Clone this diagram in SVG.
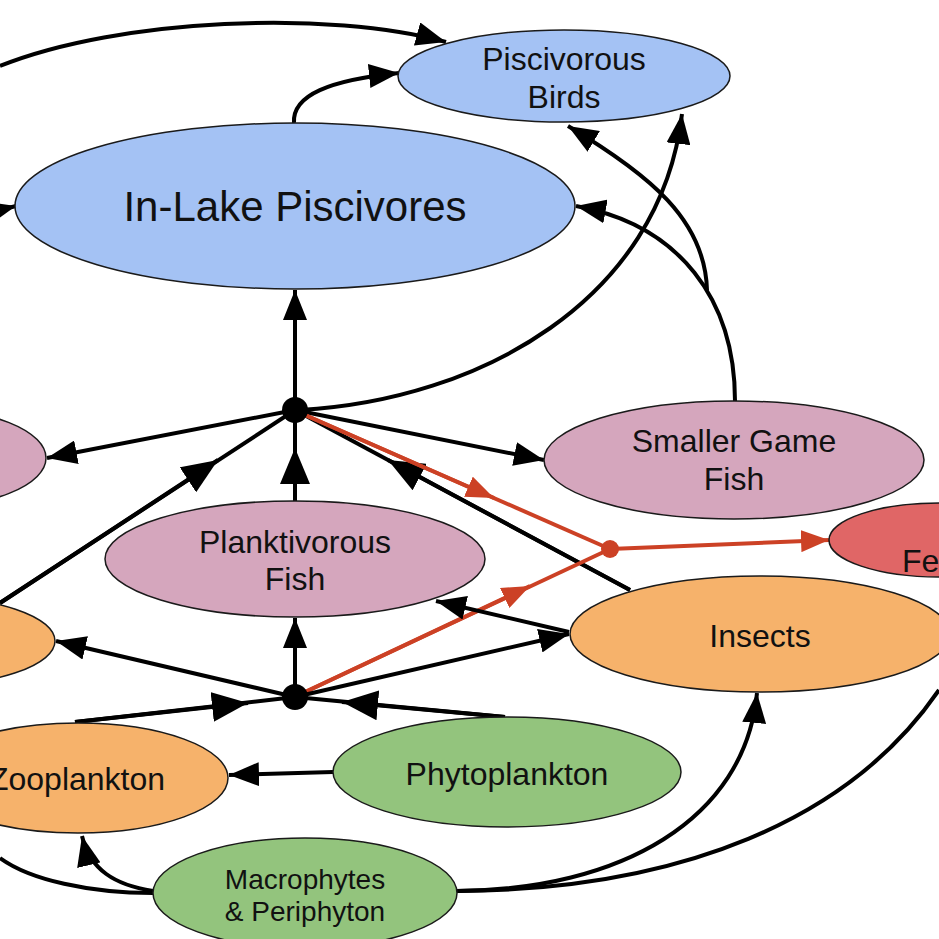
<svg xmlns="http://www.w3.org/2000/svg" width="939" height="939" viewBox="0 0 939 939">
<style>
.c{fill:none;stroke:#000;stroke-width:4}
.r{fill:none;stroke:#cc4125;stroke-width:4}
.n{stroke:#1a1a1a;stroke-width:1.5}
.t{font-family:"Liberation Sans",Arial,sans-serif;font-size:32px;fill:#111;text-anchor:middle}
.blue{fill:#a4c2f4}.pink{fill:#d5a6bd}.orange{fill:#f6b26b}.green{fill:#93c47d}.red{fill:#e06666}
</style>
<defs>
<marker id="a" markerWidth="7.5" markerHeight="6" refX="7.5" refY="3" orient="auto" markerUnits="strokeWidth"><path d="M0,0L7.5,3L0,6z" fill="#000"/></marker>
<marker id="m" markerWidth="9" markerHeight="7.5" refX="9" refY="3.75" orient="auto" markerUnits="strokeWidth"><path d="M0,0L9,3.75L0,7.5z" fill="#000"/></marker>
<marker id="ar" markerWidth="7" markerHeight="5.5" refX="7" refY="2.75" orient="auto" markerUnits="strokeWidth"><path d="M0,0L7,2.75L0,5.5z" fill="#cc4125"/></marker>
</defs>
<rect width="939" height="939" fill="#fff"/>
<g id="connectors">
<path class="c" d="M0,66 C120,18 330,10 446,42" marker-end="url(#a)"/>
<path class="c" d="M294,123 C292,95 330,80 399,73" marker-end="url(#a)"/>
<path class="c" d="M0,210 L16,206" marker-end="url(#a)"/>
<path class="c" d="M295,410 L295,290" marker-end="url(#a)"/>
<path class="c" d="M300,410 C480,400 660,300 682,114" marker-end="url(#a)"/>
<path class="c" d="M735,401 C735,300 680,225 576,206" marker-end="url(#a)"/>
<path class="c" d="M707,290 C705,220 650,175 568,126" marker-end="url(#a)"/>
<path class="c" d="M295,410 L47,458" marker-end="url(#a)"/>
<path class="c" d="M295,410 L544,460" marker-end="url(#a)"/>
<path class="c" d="M0,603 L295,410"/>
<path class="c" d="M0,603 L218,460" marker-end="url(#m)"/>
<path class="c" d="M295,501 L295,410"/>
<path class="c" d="M295,501 L295,448" marker-end="url(#m)"/>
<path class="c" d="M630,590 L295,410"/>
<path class="c" d="M630,590 L388,460" marker-end="url(#m)"/>
<path class="r" d="M305,415 L610,549"/>
<path class="r" d="M305,415 L494,498" marker-end="url(#ar)"/>
<path class="r" d="M303,693 L610,549"/>
<path class="r" d="M303,693 L530,586" marker-end="url(#ar)"/>
<path class="r" d="M610,549 L829,540" marker-end="url(#ar)"/>
<path class="c" d="M295,697 L295,618" marker-end="url(#a)"/>
<path class="c" d="M295,697 L56,641" marker-end="url(#a)"/>
<path class="c" d="M295,697 L569,634" marker-end="url(#a)"/>
<path class="c" d="M569,632 L436,601" marker-end="url(#a)"/>
<path class="c" d="M75,722 L295,697"/>
<path class="c" d="M75,722 L248,703" marker-end="url(#m)"/>
<path class="c" d="M505,717 L295,697"/>
<path class="c" d="M505,717 L342,702" marker-end="url(#m)"/>
<path class="c" d="M333,772 L229,775" marker-end="url(#a)"/>
<path class="c" d="M153,891 C115,885 90,870 82,836" marker-end="url(#a)"/>
<path class="c" d="M153,893 C90,893 30,880 0,858"/>
<path class="c" d="M457,891 C620,890 745,820 757,693" marker-end="url(#a)"/>
<path class="c" d="M457,891 C680,890 850,820 939,690"/>
</g>
<g id="node-piscivorous-birds"><ellipse class="n blue" cx="564" cy="76" rx="166" ry="46"/><text class="t" x="564" y="70">Piscivorous</text><text class="t" x="564" y="108">Birds</text></g>
<g id="node-in-lake-piscivores"><ellipse class="n blue" cx="295" cy="206" rx="280" ry="83"/><text class="t" x="295" y="221" style="font-size:42px">In-Lake Piscivores</text></g>
<g id="node-left-pink"><ellipse class="n pink" cx="-80" cy="458" rx="126" ry="50"/></g>
<g id="node-smaller-game-fish"><ellipse class="n pink" cx="734" cy="460" rx="190" ry="59"/><text class="t" x="734" y="452">Smaller Game</text><text class="t" x="734" y="490">Fish</text></g>
<g id="node-planktivorous-fish"><ellipse class="n pink" cx="295" cy="559" rx="190" ry="58"/><text class="t" x="295" y="553">Planktivorous</text><text class="t" x="295" y="590">Fish</text></g>
<g id="node-left-orange"><ellipse class="n orange" cx="-80" cy="641" rx="135" ry="45"/></g>
<g id="node-fe"><ellipse class="n red" cx="939" cy="540" rx="110" ry="37"/><text class="t" x="902" y="572" style="text-anchor:start">Fe</text></g>
<g id="node-insects"><ellipse class="n orange" cx="760" cy="634" rx="190" ry="58"/><text class="t" x="760" y="647">Insects</text></g>
<g id="node-zooplankton"><ellipse class="n orange" cx="78" cy="778" rx="150" ry="55"/><text class="t" x="77" y="790">Zooplankton</text></g>
<g id="node-phytoplankton"><ellipse class="n green" cx="507" cy="772" rx="174" ry="55"/><text class="t" x="507" y="785">Phytoplankton</text></g>
<g id="node-macrophytes"><ellipse class="n green" cx="305" cy="893" rx="152" ry="55"/><text class="t" x="305" y="889" style="font-size:28px">Macrophytes</text><text class="t" x="305" y="921" style="font-size:28px">&amp; Periphyton</text></g>
<g id="hub-1"><circle cx="295" cy="410" r="13" fill="#000"/></g>
<g id="hub-2"><circle cx="295" cy="697" r="13" fill="#000"/></g>
<g id="hub-red"><circle cx="610" cy="549" r="9" fill="#cc4125"/></g>
</svg>
